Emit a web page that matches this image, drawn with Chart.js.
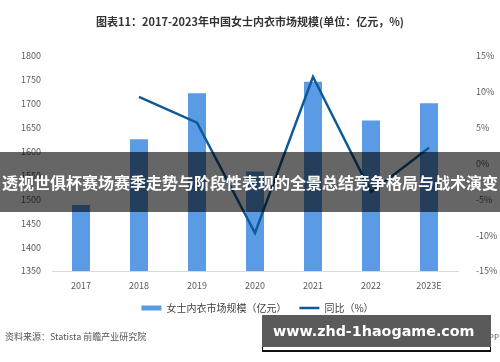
<!DOCTYPE html>
<html><head><meta charset="utf-8">
<script src="https://cdn.jsdelivr.net/npm/chart.js@4"></script>
<style>
html,body{margin:0;padding:0;background:#fff;width:500px;height:362px;overflow:hidden;font-family:"Noto Sans CJK SC",sans-serif;}
#wrap{position:relative;width:500px;height:362px;}
#title{position:absolute;left:0;top:13px;width:500px;text-align:center;font-size:11px;font-weight:bold;color:#333;}
#src{position:absolute;left:5px;top:330px;font-size:9px;color:#555;}
#app{position:absolute;right:1px;top:331px;font-size:8px;color:#555;}
#banner{position:absolute;left:0;top:152px;width:500px;height:60px;background:rgba(0,0,0,0.6);color:#fff;font-weight:bold;font-size:16px;line-height:60px;white-space:nowrap;text-align:center;}
#site{position:absolute;left:262px;top:315px;width:229px;height:32px;background:#5a5a5a;box-shadow:0 4px 0 -1px #fff, 0 5px 0 0 #111;color:#fff;font-weight:bold;font-size:14.3px;line-height:45px;overflow:visible;white-space:nowrap;padding-left:11px;box-sizing:border-box;font-family:"DejaVu Sans",sans-serif;}
#site span{position:relative;top:-6px;}
</style></head>
<body><div id="wrap">
<canvas id="c" width="500" height="362"></canvas>
<div id="title">图表11：2017-2023年中国女士内衣市场规模(单位：亿元，%)</div>
<div id="src">资料来源：Statista 前瞻产业研究院</div>
<div id="app">前瞻经济学人APP</div>
<div id="banner">透视世俱杯赛场赛季走势与阶段性表现的全景总结竞争格局与战术演变</div>
<div id="site"><span>www.zhd-1haogame.com</span></div>
</div>
<script>
const categories = ["2017","2018","2019","2020","2021","2022","2023E"];
const marketSize = [1488, 1626, 1722, 1558, 1746, 1665, 1701];
const yoyGrowth = [null, 9.3, 5.7, -9.7, 12.1, -4.0, 2.2];
const leftTicks = {min:1350, max:1800, step:50};
const rightTicks = {min:-15, max:15, step:5};

const tickFont = {family:"Noto Sans CJK SC", size:9};
new Chart(document.getElementById('c'), {
  data: {
    labels: categories,
    datasets: [
      {type:'bar', label:'女士内衣市场规模（亿元）\u3000', data: marketSize, backgroundColor:'#5b9be6', yAxisID:'y', order:2, barPercentage:0.31, categoryPercentage:1},
      {type:'line', label:'同比（%）', data: yoyGrowth, borderColor:'#0d5b96', backgroundColor:'#0d5b96', borderWidth:2.5, pointRadius:0, tension:0, yAxisID:'y1', order:1}
    ]
  },
  options: {
    responsive:false, animation:false,
    layout:{padding:{top:56, bottom:39, left:15, right:0}},
    plugins:{
      tooltip:{enabled:false},
      legend:{position:'bottom', labels:{usePointStyle:true, pointStyleWidth:20, boxHeight:5, font:{family:"Noto Sans CJK SC", size:10}, color:'#404040', padding:8,
        generateLabels:(chart)=>{
          const l = Chart.defaults.plugins.legend.labels.generateLabels(chart);
          l.sort((a,b)=>a.datasetIndex-b.datasetIndex);
          l.forEach(it=>{
            if(it.datasetIndex===0){it.pointStyle='rect'; it.lineWidth=0;}
            else {it.pointStyle='line'; it.lineWidth=2.5; it.strokeStyle='#0d5b96';}
          });
          return l;
        }}}
    },
    scales:{
      x:{grid:{display:false}, border:{color:'#d9d9d9'}, ticks:{font:tickFont, color:'#595959', padding:1},
         afterFit:(s)=>{s.height=24;}},
      y:{position:'left', min:leftTicks.min, max:leftTicks.max, ticks:{stepSize:leftTicks.step, font:tickFont, color:'#595959', callback:v=>String(v)}, grid:{display:false}, border:{display:false},
         afterFit:(s)=>{s.width=37;}},
      y1:{position:'right', min:rightTicks.min, max:rightTicks.max, ticks:{stepSize:rightTicks.step, font:tickFont, color:'#595959', callback:v=>v+'%', padding:10}, grid:{display:false}, border:{display:false},
         afterFit:(s)=>{s.width=42;}}
    }
  }
});
</script>
</body></html>
